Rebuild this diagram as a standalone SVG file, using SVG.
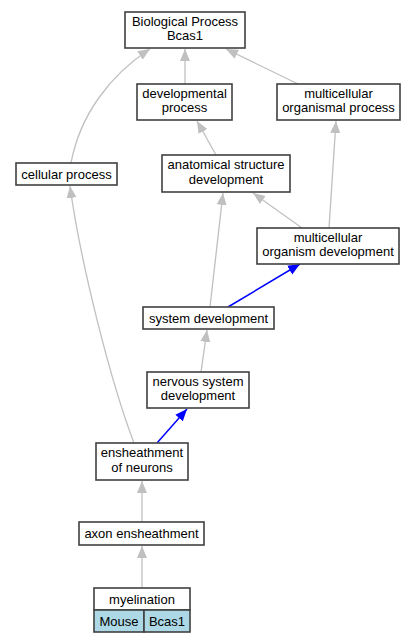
<svg xmlns="http://www.w3.org/2000/svg" width="416" height="643" viewBox="0 0 416 643">
<style>
.n rect{fill:#fff;stroke:#404040;stroke-width:1.6}
text{font-family:"Liberation Sans",Arial,sans-serif;font-size:13px;fill:#000;text-anchor:middle}
.e{fill:none;stroke:#c0c0c0;stroke-width:1.3}
.b{fill:none;stroke:#0000ff;stroke-width:1.5}
.n rect.cell{fill:#add8e6;stroke:#404040;stroke-width:1.6}
</style>
<defs>
<marker id="ag" markerUnits="userSpaceOnUse" markerWidth="13" markerHeight="11" refX="12" refY="5.5" orient="auto" viewBox="0 0 13 11"><path d="M0,0.5 L12,5.5 L0,10.5 z" fill="#c0c0c0"/></marker>
<marker id="ab" markerUnits="userSpaceOnUse" markerWidth="13" markerHeight="11" refX="12" refY="5.5" orient="auto" viewBox="0 0 13 11"><path d="M0,0.5 L12,5.5 L0,10.5 z" fill="#0000ff"/></marker>
</defs>
<rect width="416" height="643" fill="#fff"/>
<g id="edges">
<path class="e" d="M185,84 L185,49" marker-end="url(#ag)"/>
<path class="e" d="M298,84 L226,49" marker-end="url(#ag)"/>
<path class="e" d="M71,163 C80,115 110,75 150,49" marker-end="url(#ag)"/>
<path class="e" d="M216,155 L197,121" marker-end="url(#ag)"/>
<path class="e" d="M329,228 L336,121" marker-end="url(#ag)"/>
<path class="e" d="M302,228 L253,193" marker-end="url(#ag)"/>
<path class="e" d="M210,307 L223,193" marker-end="url(#ag)"/>
<path class="b" d="M228,307 L300,264" marker-end="url(#ab)"/>
<path class="e" d="M201,372 L207,330" marker-end="url(#ag)"/>
<path class="b" d="M157,443 L187,409" marker-end="url(#ab)"/>
<path class="e" d="M134,443 C110,380 80,260 70,186" marker-end="url(#ag)"/>
<path class="e" d="M142,522 L142,481" marker-end="url(#ag)"/>
<path class="e" d="M142,588 L142,546" marker-end="url(#ag)"/>
</g>
<g id="bp" class="n"><rect x="125" y="12" width="120" height="36"/><text x="185" y="25.7">Biological Process<tspan x="185" dy="14.6">Bcas1</tspan></text></g>
<g id="devproc" class="n"><rect x="137" y="84" width="95" height="36"/><text x="184.5" y="97.7">developmental<tspan x="184.5" dy="14.6">process</tspan></text></g>
<g id="mop" class="n"><rect x="277" y="84" width="123" height="36"/><text x="338.5" y="97.7">multicellular<tspan x="338.5" dy="14.6">organismal process</tspan></text></g>
<g id="cellproc" class="n"><rect x="16" y="163" width="101" height="22"/><text x="66.5" y="178.5">cellular process</text></g>
<g id="asd" class="n"><rect x="162" y="155" width="128" height="37"/><text x="226" y="169.2">anatomical structure<tspan x="226" dy="14.6">development</tspan></text></g>
<g id="mod" class="n"><rect x="257" y="228" width="142" height="36"/><text x="328" y="241.7">multicellular<tspan x="328" dy="14.6">organism development</tspan></text></g>
<g id="sysdev" class="n"><rect x="143" y="307" width="131" height="22"/><text x="208.5" y="322.5">system development</text></g>
<g id="nsd" class="n"><rect x="147" y="372" width="102" height="36"/><text x="198" y="385.7">nervous system<tspan x="198" dy="14.6">development</tspan></text></g>
<g id="eon" class="n"><rect x="96" y="443" width="92" height="37"/><text x="142" y="457.2">ensheathment<tspan x="142" dy="14.6">of neurons</tspan></text></g>
<g id="axon" class="n"><rect x="79" y="522" width="125" height="23"/><text x="141.5" y="538">axon ensheathment</text></g>
<g id="myel" class="n"><rect x="94" y="588" width="96" height="22"/><text x="142" y="603.5">myelination</text>
<rect class="cell" x="94" y="610" width="50" height="22"/><text x="119" y="625.5">Mouse</text>
<rect class="cell" x="144" y="610" width="46" height="22"/><text x="167" y="625.5">Bcas1</text></g>
</svg>
